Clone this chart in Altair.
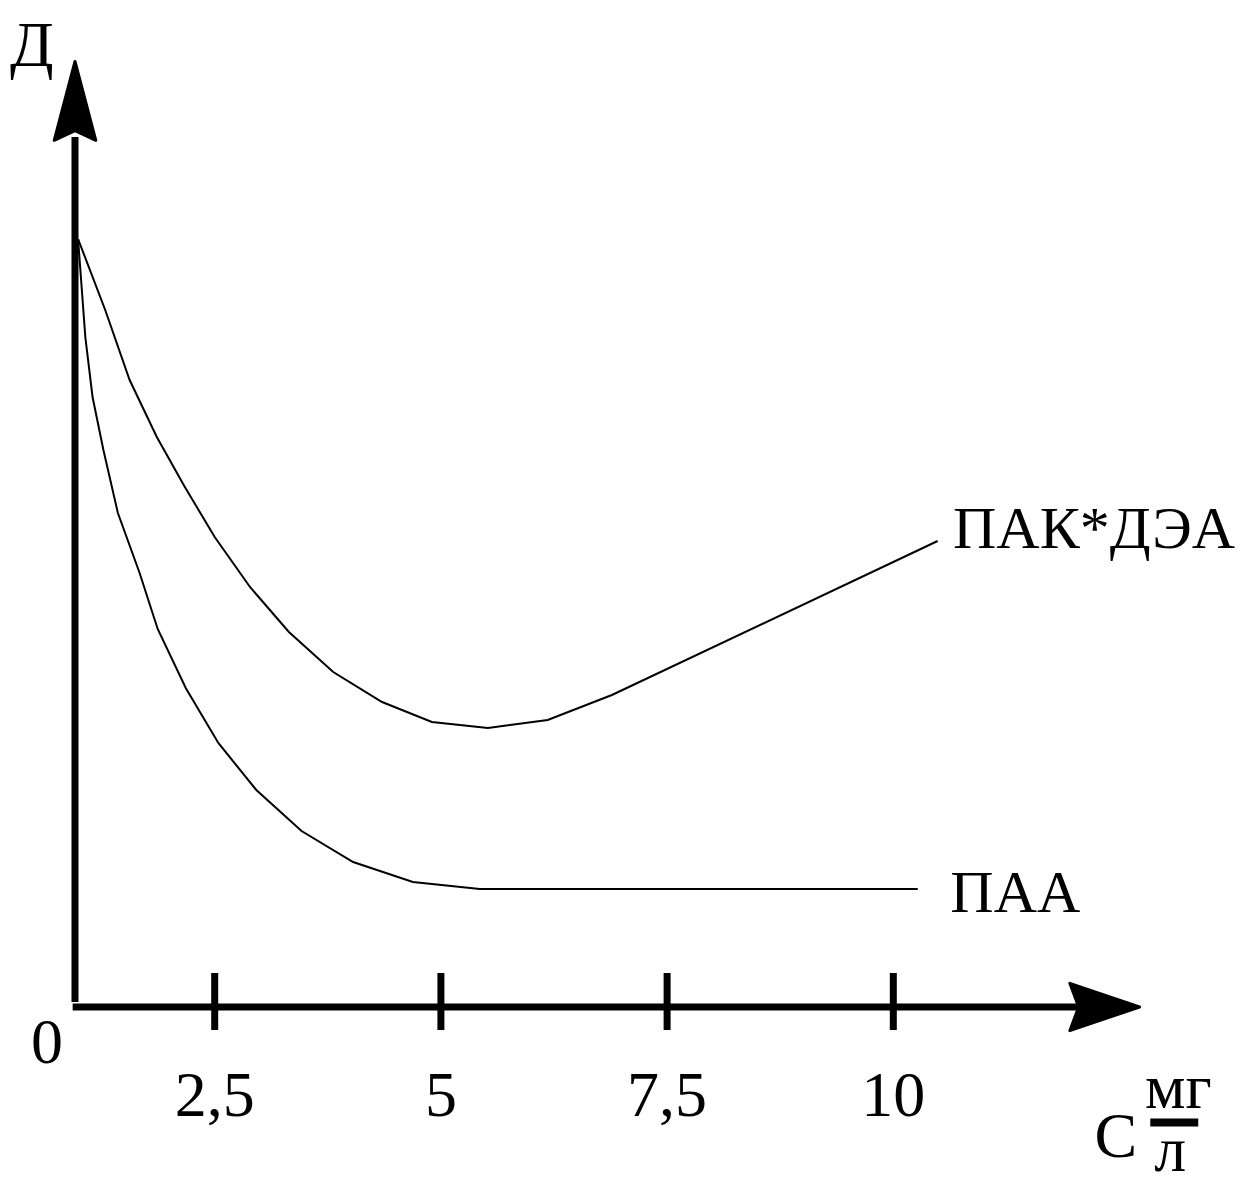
import altair as alt
import pandas as pd

# ---- data (C in mg/l, D in arbitrary units) ----
pak_c = [0.99, 1.29, 1.56, 1.86, 2.17, 2.50, 2.89, 3.32, 3.81, 4.35, 4.90, 5.52, 6.18, 6.89, 10.49]
pak_d = [7.68, 6.97, 6.27, 5.70, 5.20, 4.70, 4.20, 3.75, 3.35, 3.05, 2.85, 2.79, 2.87, 3.12, 4.66]

paa_c = [0.99, 1.07, 1.15, 1.27, 1.43, 1.67, 1.87, 2.18, 2.54, 2.96, 3.46, 4.03, 4.69, 5.43, 10.27]
paa_d = [7.68, 6.70, 6.10, 5.57, 4.94, 4.34, 3.78, 3.19, 2.64, 2.17, 1.76, 1.45, 1.25, 1.18, 1.18]

tick_values = [2.5, 5, 7.5, 10]
tick_labels = ["2,5", "5", "7,5", "10"]

series_names = ["ПАК*ДЭА", "ПАА"]

W, H = 1238, 1165
X_SCALE = alt.Scale(domain=[0.2155, 13.898], nice=False, zero=False)
Y_SCALE = alt.Scale(domain=[-1.66, 9.99], nice=False, zero=False)
FONT = "Liberation Serif"
FS = 64
FS_SERIES = 60


def X(f):
    return alt.X(f, type="quantitative", scale=X_SCALE, axis=None)


def Y(f):
    return alt.Y(f, type="quantitative", scale=Y_SCALE, axis=None)


curves = pd.concat([
    pd.DataFrame({"series": series_names[0], "c": pak_c, "d": pak_d, "o": range(len(pak_c))}),
    pd.DataFrame({"series": series_names[1], "c": paa_c, "d": paa_d, "o": range(len(paa_c))}),
])

lines = alt.Chart(curves).mark_line(color="black", strokeWidth=2, interpolate="linear").encode(
    x=X("c"), y=Y("d"), detail="series:N", order="o:Q"
)

# axis lines
axes_df = pd.DataFrame({
    "x1": [0.956, 0.93], "x2": [0.956, 12.06],
    "y1": [0.05, 0.0], "y2": [8.70, 0.0],
})
axes = alt.Chart(axes_df).mark_rule(color="black", strokeWidth=7, strokeCap="butt").encode(
    x=X("x1"), x2="x2:Q", y=Y("y1"), y2="y2:Q"
)

# arrowheads
up_arrow = alt.Chart(pd.DataFrame({"x": [0.956], "y": [9.055]})).mark_point(
    shape="M0,-1 L0.52,0.97 L0,0.73 L-0.52,0.97 Z", filled=True, size=6400,
    color="black", opacity=1, stroke="black", strokeWidth=3, strokeJoin="round"
).encode(x=X("x"), y=Y("y"))

right_arrow = alt.Chart(pd.DataFrame({"x": [12.33], "y": [0.0]})).mark_point(
    shape="M1,0 L-0.97,-0.67 L-0.72,0 L-0.97,0.67 Z", filled=True, size=5000,
    color="black", opacity=1, stroke="black", strokeWidth=3, strokeJoin="round"
).encode(x=X("x"), y=Y("y"))

# ticks crossing the x axis
ticks_df = pd.DataFrame({"x": tick_values, "y1": [-0.23] * 4, "y2": [0.34] * 4})
ticks = alt.Chart(ticks_df).mark_rule(color="black", strokeWidth=7, strokeCap="butt").encode(
    x=X("x"), y=Y("y1"), y2="y2:Q"
)

labels_df = pd.DataFrame({"x": tick_values, "y": [-1.09] * 4, "t": tick_labels})
tick_text = alt.Chart(labels_df).mark_text(
    font=FONT, fontSize=FS, align="center", baseline="alphabetic", color="black"
).encode(x=X("x"), y=Y("y"), text="t:N")

# free texts
texts_df = pd.DataFrame({
    "x": [0.647, 0.48, 12.46, 13.15, 13.06],
    "y": [-0.56, 9.41, -1.50, -1.01, -1.64],
    "t": ["0", "Д", "С", "мг", "л"],
})
free_c = alt.Chart(texts_df).mark_text(
    font=FONT, fontSize=FS, align="center", baseline="alphabetic", color="black"
).encode(x=X("x"), y=Y("y"), text="t:N")

series_df = pd.DataFrame({"x": [10.66, 10.63], "y": [4.59, 0.95], "t": series_names})
free_l = alt.Chart(series_df).mark_text(
    font=FONT, fontSize=FS_SERIES, align="left", baseline="alphabetic", color="black"
).encode(x=X("x"), y=Y("y"), text="t:N")

# fraction bar of the unit
frac = alt.Chart(pd.DataFrame({"x1": [12.84], "x2": [13.37], "y": [-1.155]})).mark_rule(
    color="black", strokeWidth=8, strokeCap="butt"
).encode(x=X("x1"), x2="x2:Q", y=Y("y"))

chart = alt.layer(
    axes, ticks, up_arrow, right_arrow, lines, tick_text, free_c, free_l, frac
).properties(
    width=W, height=H, padding=0, autosize=alt.AutoSizeParams(type="none"), background="white"
).configure_view(stroke=None)

chart.save("out.html", embed_options={"renderer": "svg", "actions": False})
